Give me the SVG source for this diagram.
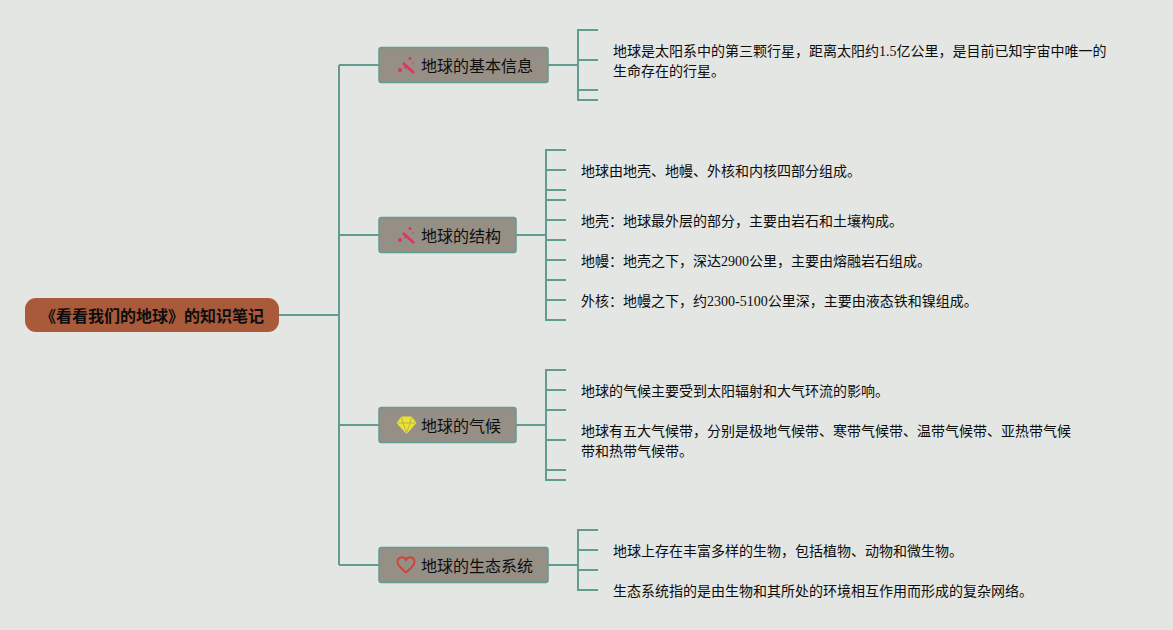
<svg xmlns="http://www.w3.org/2000/svg" width="1173" height="630" viewBox="0 0 1173 630">
<style>
text{font-family:"Liberation Serif","Noto Sans CJK SC",serif;fill:#0d0d0d}
.c{fill:none;stroke:#629c90;stroke-width:2}
.n{fill:#968f86;stroke:#629c90;stroke-width:1.500}
.t{font-size:16px}
.d{font-size:14px}
.w{fill:#e62e63}
</style>
<rect width="1173" height="630" fill="#e3e6e3"/>
<g id="connectors">
<path class="c" d="M279 315H339M339 65V565M339 65H379M339 235H379M339 425H379M339 565H379"/>
<path class="c" d="M548 65H578M598 30H578V100H598M578 60H598M578 90H598"/>
<path class="c" d="M516 235H546M566 150H546V320H566M546 170H566M546 190H566M546 200H566M546 220H566M546 240H566M546 260H566M546 280H566M546 300H566"/>
<path class="c" d="M516 425H546M566 370H546V480H566M546 390H566M546 410H566M546 440H566M546 470H566"/>
<path class="c" d="M548 565H578M598 530H578V590H598M578 550H598M578 570H598"/>
</g>
<g id="root">
<rect x="25" y="298" width="254" height="34" rx="11" fill="#a85a3a"/>
<text x="40" y="322" font-size="16" font-weight="700">《看看我们的地球》的知识笔记</text>
</g>
<g id="node-info">
<rect class="n" x="379" y="47.500" width="169" height="35" rx="2.500"/>
<g class="w"><path d="M403 63L414 73" stroke="#e62e63" stroke-width="2.500"/><circle cx="400" cy="70" r="2"/><circle cx="405" cy="67.500" r="1"/><circle cx="410" cy="58.500" r="1.500"/><circle cx="413" cy="63" r="0.800"/></g>
<text class="t" x="421" y="72">地球的基本信息</text>
</g>
<g id="node-structure">
<rect class="n" x="379" y="217.500" width="137" height="35" rx="2.500"/>
<g class="w"><path d="M403 233L414 243" stroke="#e62e63" stroke-width="2.500"/><circle cx="400" cy="240" r="2"/><circle cx="405" cy="237.500" r="1"/><circle cx="410" cy="228.500" r="1.500"/><circle cx="413" cy="233" r="0.800"/></g>
<text class="t" x="421" y="242">地球的结构</text>
</g>
<g id="node-climate">
<rect class="n" x="379" y="407.500" width="137" height="35" rx="2.500"/>
<path d="M401.500 417H411.500L416 423L406.500 433.500L397 423Z" fill="#e9e23a" stroke="#e9e23a" stroke-width="1"/>
<path d="M397.500 423H415.500M401.500 417L403 423L406.500 433M411.500 417L410 423L406.500 433" fill="none" stroke="#b0a945" stroke-width="0.800"/>
<text class="t" x="421" y="432">地球的气候</text>
</g>
<g id="node-ecosystem">
<rect class="n" x="379" y="547.500" width="169" height="35" rx="2.500"/>
<path d="M406 572.500C401 568 397.500 565.500 397.500 562C397.500 556.500 404 556 406 560C408 556 414.500 556.500 414.500 562C414.500 565.500 411 568 406 572.500Z" fill="none" stroke="#cf4436" stroke-width="2"/>
<text class="t" x="421" y="572">地球的生态系统</text>
</g>
<g id="notes">
<text class="d" x="613" y="56">地球是太阳系中的第三颗行星，距离太阳约1.5亿公里，是目前已知宇宙中唯一的</text>
<text class="d" x="613" y="76">生命存在的行星。</text>
<text class="d" x="581" y="176">地球由地壳、地幔、外核和内核四部分组成。</text>
<text class="d" x="581" y="226">地壳：地球最外层的部分，主要由岩石和土壤构成。</text>
<text class="d" x="581" y="266">地幔：地壳之下，深达2900公里，主要由熔融岩石组成。</text>
<text class="d" x="581" y="306">外核：地幔之下，约2300-5100公里深，主要由液态铁和镍组成。</text>
<text class="d" x="581" y="396">地球的气候主要受到太阳辐射和大气环流的影响。</text>
<text class="d" x="581" y="436">地球有五大气候带，分别是极地气候带、寒带气候带、温带气候带、亚热带气候</text>
<text class="d" x="581" y="456">带和热带气候带。</text>
<text class="d" x="613" y="556">地球上存在丰富多样的生物，包括植物、动物和微生物。</text>
<text class="d" x="613" y="596">生态系统指的是由生物和其所处的环境相互作用而形成的复杂网络。</text>
</g>
</svg>
